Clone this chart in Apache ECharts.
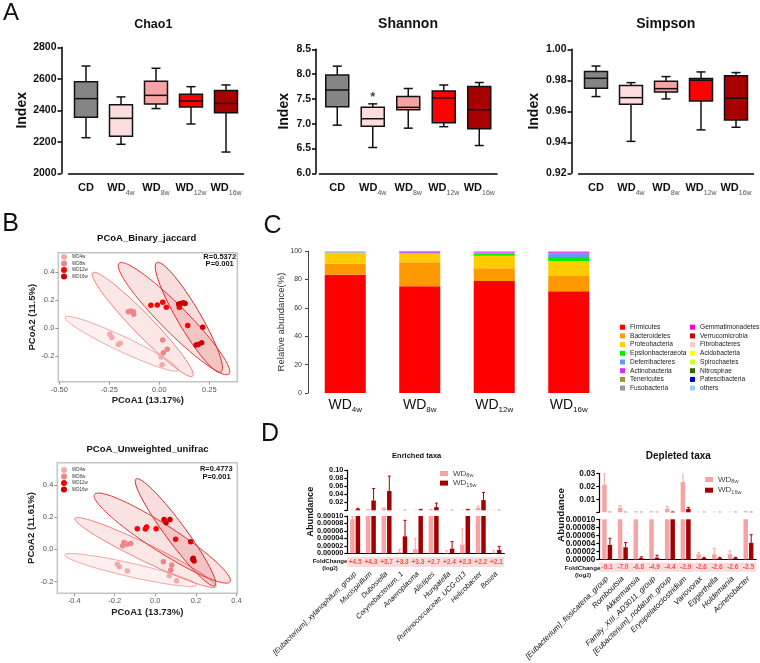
<!DOCTYPE html>
<html>
<head>
<meta charset="utf-8">
<script src="https://cdn.jsdelivr.net/npm/echarts@6/dist/echarts.min.js"></script>
<style>
html, body, #main { width: 760px; height: 663px; margin: 0; background: #fff; }
</style>
</head>
<body>
<div id="main"></div>
<script>
// ---------- A: alpha diversity (min, Q1, median, Q3, max) ----------
var groups = ['CD', 'WD4w', 'WD8w', 'WD12w', 'WD16w'];
var chao1 = [[2226, 2356, 2474, 2582, 2681], [2184, 2235, 2349, 2436, 2485], [2411, 2440, 2495, 2584, 2667], [2313, 2421, 2459, 2502, 2550], [2135, 2385, 2444, 2525, 2561]];
var shannon = [[6.97, 7.34, 7.68, 7.98, 8.16], [6.52, 6.95, 7.10, 7.33, 7.40], [6.91, 7.28, 7.33, 7.55, 7.71], [6.94, 7.02, 7.52, 7.66, 7.78], [6.56, 6.90, 7.28, 7.75, 7.83]];
var simpson = [[0.9695, 0.9748, 0.9813, 0.9856, 0.9892], [0.9406, 0.9645, 0.9688, 0.9766, 0.9785], [0.968, 0.9725, 0.9746, 0.9794, 0.9824], [0.948, 0.9667, 0.980, 0.9811, 0.9854], [0.9497, 0.9544, 0.9684, 0.983, 0.985]];
var shannonStar = [[1, 7.53]];
var boxColors = ['#858585', '#fcdcdc', '#f5a3a3', '#ff0000', '#a80000'];

// ---------- B: PCoA ----------
var pcoaGroups = ['WD4w', 'WD8w', 'WD12w', 'WD16w'];
var pcoaColors = ['#f7a8a8', '#f08585', '#ff0000', '#cc0000'];
var jac4w = [[-0.247, -0.043], [-0.237, -0.065], [-0.205, -0.115], [-0.195, -0.107], [0.009, -0.205], [0.014, -0.26]];
var jac8w = [[-0.155, 0.119], [-0.143, 0.124], [-0.130, 0.119], [-0.128, 0.100], [0.017, -0.084], [0.040, -0.150], [0.020, -0.174]];
var jac12w = [[-0.042, 0.164], [-0.010, 0.166], [0.017, 0.186], [0.035, 0.150], [0.100, 0.150], [0.142, 0.021]];
var jac16w = [[0.097, 0.174], [0.107, 0.178], [0.120, 0.183], [0.129, 0.178], [0.217, 0.007], [0.184, -0.119], [0.195, -0.115], [0.212, -0.103]];
// ellipse: tip1 x, tip1 y, tip2 x, tip2 y, minor/major ratio
var jacEllipses = [[-0.4715, 0.08, 0.095, -0.30, 0.12], [-0.333, 0.397, 0.167, -0.341, 0.14], [-0.2015, 0.464, 0.3485, -0.326, 0.17], [-0.013, 0.469, 0.3085, -0.312, 0.18]];
var uni4w = [[-0.187, -0.093], [-0.177, -0.108], [-0.138, -0.135], [0.069, -0.164], [0.105, -0.195]];
var uni8w = [[-0.161, 0.023], [-0.154, 0.043], [-0.138, 0.031], [-0.121, 0.037], [0.040, -0.077], [0.081, -0.098], [0.076, -0.129]];
var uni12w = [[-0.089, 0.128], [-0.049, 0.126], [-0.043, 0.139], [0.004, 0.128], [0.100, 0.062]];
var uni16w = [[0.043, 0.186], [0.053, 0.165], [0.072, 0.186], [0.174, 0.047], [0.184, -0.062], [0.191, -0.073], [0.187, -0.056]];
var uniEllipses = [[-0.445, -0.035, 0.204, -0.222, 0.10], [-0.396, 0.192, 0.299, -0.232, 0.11], [-0.300, 0.341, 0.368, -0.201, 0.165], [-0.095, 0.437, 0.294, -0.226, 0.15]];
var ellFill = ['rgba(250,170,170,0.18)', 'rgba(240,120,120,0.18)', 'rgba(225,60,60,0.15)', 'rgba(200,30,30,0.15)'];
var ellLine = ['#f6a5a5', '#f08080', '#e53935', '#d32f2f'];

// ---------- C: phylum composition (%) ----------
var compGroups = ['WD4w', 'WD8w', 'WD12w', 'WD16w'];
var phyla = ['Firmicutes', 'Bacteroidetes', 'Proteobacteria', 'Epsilonbacteraeota', 'Deferribacteres', 'Actinobacteria', 'Tenericutes', 'Fusobacteria',
             'Gemmatimonadetes', 'Verrucomicrobia', 'Fibrobacteres', 'Acidobacteria', 'Spirochaetes', 'Nitrospirae', 'Patescibacteria', 'others'];
var phylaColors = ['#ff0000', '#ff9900', '#ffcc00', '#00ee00', '#6699ff', '#cc33ff', '#999933', '#999999',
                   '#ff00cc', '#cc0000', '#ffcccc', '#ffff00', '#ccff33', '#336600', '#0000cc', '#99ccff'];
var comp4w = [83.2, 7.9, 7.8, 0.1, 0.3, 0.1, 0.05, 0, 0, 0, 0, 0, 0, 0, 0, 0.55];
var comp8w = [75.1, 16.9, 6.1, 0.4, 0.3, 0.6, 0.1, 0, 0.2, 0.1, 0, 0, 0, 0, 0, 0.2];
var comp12w = [78.9, 8.9, 8.9, 1.3, 0.8, 0.3, 0.1, 0, 0.1, 0, 0, 0, 0, 0, 0, 0.7];
var comp16w = [71.6, 10.8, 10.6, 2.8, 2.4, 0.9, 0.1, 0, 0.2, 0, 0, 0, 0, 0, 0, 0.6];

// ---------- D: differential taxa ----------
var enrTaxa = ['[Eubacterium]_xylanophilum_group', 'Mucispirillum', 'Dubosiella', 'Corynebacterium_1', 'Anaeroplasma', 'Alistipes', 'Hungatella', 'Ruminococcaceae_UCG-013', 'Helicobacter', 'Bosea'];
var enrMean8 = [0.0000911, 0.0015, 0.005, 0.0000036, 0.0000116, 0.0017, 0.0000009, 0.0000232, 0.006, 0.0000018];
var enrSd8 = [0.000007, 0.0007, 0.001, 0.000007, 0.0000277, 0.0005, 0.000006, 0.000042, 0.0043, 0.0000052];
var enrMean16 = [0.003, 0.0243, 0.0478, 0.0000455, 0.002, 0.0078, 0.0000125, 0.002, 0.0253, 0.0000089];
var enrSd16 = [0.002, 0.0297, 0.037, 0.0000429, 0.0005, 0.01, 0.0000188, 0.0005, 0.019, 0.0000099];
var enrFold = [4.5, 4.3, 3.7, 3.3, 3.3, 2.7, 2.4, 2.3, 2.2, 2.1];
var depTaxa = ['[Eubacterium]_fissicatena_group', 'Romboutsia', 'Akkermansia', 'Family_XIII_AD3011_group', '[Eubacterium]_nodatum_group', 'Erysipelatoclostridium', 'Variovorax', 'Eggerthella', 'Holdemania', 'Acinetobacter'];
var depMean8 = [0.0213, 0.0036, 0.0004, 0.0004, 0.0028, 0.0233, 0.0000125, 0.0000125, 0.000013, 0.0005];
var depSd8 = [0.0082, 0.0015, 0, 0, 0.0018, 0.0075, 0.000005, 0.000015, 0.000008, 0];
var depMean16 = [0.0000358, 0.00003, 0.0000033, 0.0000042, 0.0003, 0.0026, 0.0000033, 0.000003, 0.000003, 0.000041];
var depSd16 = [0.0000167, 0.0000117, 0.000003, 0.0000058, 0, 0.0012, 0.0000017, 0.000002, 0.000002, 0.0000205];
var depFold = [-9.1, -7.0, -6.8, -4.9, -4.4, -2.9, -2.6, -2.6, -2.6, -2.5];
var pinkBar = '#f7a3a3', darkBar = '#a30000';

var FONT = '"Liberation Sans", Arial, sans-serif';
var chart = echarts.init(document.getElementById('main'));

function subLabel(v) {
    return v === 'CD' ? '{m|CD}' : '{m|WD}{s|' + v.slice(2) + '}';
}

// box plot drawn with short whisker caps
function boxItem(params, api) {
    var i = api.value(0);
    var lo = api.coord([i, api.value(1)]), q1 = api.coord([i, api.value(2)]), md = api.coord([i, api.value(3)]);
    var q3 = api.coord([i, api.value(4)]), hi = api.coord([i, api.value(5)]);
    var x = lo[0], half = 11.5, cap = 4.5;
    function ln(x1, y1, x2, y2) {
        return { type: 'line', shape: { x1: x1, y1: y1, x2: x2, y2: y2 }, style: { stroke: '#111', lineWidth: 1.5 } };
    }
    return { type: 'group', children: [
        ln(x, hi[1], x, q3[1]), ln(x - cap, hi[1], x + cap, hi[1]),
        ln(x, q1[1], x, lo[1]), ln(x - cap, lo[1], x + cap, lo[1]),
        { type: 'rect', shape: { x: x - half, y: q3[1], width: half * 2, height: q1[1] - q3[1] },
          style: { fill: boxColors[params.dataIndex], stroke: '#111', lineWidth: 1.5 } },
        ln(x - half, md[1], x + half, md[1])
    ] };
}

function ellipseItem(params, api) {
    var a = api.coord([api.value(0), api.value(1)]), b = api.coord([api.value(2), api.value(3)]);
    var r = api.value(4);
    var cx = (a[0] + b[0]) / 2, cy = (a[1] + b[1]) / 2, ux = (b[0] - a[0]) / 2, uy = (b[1] - a[1]) / 2;
    var vx = -uy * r, vy = ux * r, pts = [];
    for (var k = 0; k < 90; k++) {
        var t = k / 90 * Math.PI * 2;
        pts.push([cx + Math.cos(t) * ux + Math.sin(t) * vx, cy + Math.cos(t) * uy + Math.sin(t) * vy]);
    }
    return { type: 'polygon', shape: { points: pts },
             style: { fill: ellFill[params.dataIndex], stroke: ellLine[params.dataIndex], lineWidth: 1 } };
}

function errItem(off, color) {
    return function (params, api) {
        var c = api.value(0), m = api.value(1), sd = api.value(2);
        var p0 = api.coord([c, m]), p1 = api.coord([c, m + sd]);
        var x = p0[0] + off;
        return { type: 'group', children: [
            { type: 'line', shape: { x1: x, y1: p0[1], x2: x, y2: p1[1] }, style: { stroke: color, lineWidth: 1 } },
            { type: 'line', shape: { x1: x - 1.5, y1: p1[1], x2: x + 1.5, y2: p1[1] }, style: { stroke: color, lineWidth: 1 } }
        ] };
    };
}

var grids = [
    { left: 68.5, top: 47.3, width: 175, height: 126 },
    { left: 319.5, top: 49.3, width: 177.5, height: 124 },
    { left: 578.5, top: 49.3, width: 175, height: 124 },
    { left: 58.3, top: 252.7, width: 179, height: 129, show: true, borderColor: '#c4c4c4', borderWidth: 1.5 },
    { left: 57.3, top: 462.7, width: 180, height: 130.6, show: true, borderColor: '#c4c4c4', borderWidth: 1.5 },
    { left: 308, top: 251, width: 298, height: 142 },
    { left: 347.3, top: 470, width: 157, height: 40.3 },
    { left: 347.3, top: 516, width: 157, height: 37.3 },
    { left: 347.3, top: 557, width: 157, height: 10, show: true, backgroundColor: '#fbdcdc', borderWidth: 0 },
    { left: 599.3, top: 473.3, width: 157, height: 39 },
    { left: 599.3, top: 519.3, width: 157, height: 40 },
    { left: 599.3, top: 562.5, width: 157, height: 11.5, show: true, backgroundColor: '#fbdcdc', borderWidth: 0 }
];

var blackLine = { color: '#000', width: 1.5 };

function boxX(i) {
    return { gridIndex: i, type: 'category', data: groups,
        axisLine: { lineStyle: blackLine },
        axisTick: { alignWithLabel: true, length: 4, lineStyle: blackLine },
        axisLabel: { margin: 7, interval: 0, formatter: subLabel, rich: {
            m: { fontSize: 11, fontWeight: 'bold', color: '#111', lineHeight: 16 },
            s: { fontSize: 7, color: '#555', verticalAlign: 'bottom', lineHeight: 8 } } } };
}
function boxY(i, min, max, step, dec, off, gap) {
    return { gridIndex: i, type: 'value', min: min, max: max, interval: step, offset: off,
        name: 'Index', nameLocation: 'middle', nameGap: gap,
        nameTextStyle: { fontSize: 14, fontWeight: 'bold', color: '#111' },
        axisLine: { show: true, lineStyle: blackLine },
        axisTick: { show: true, length: 4, lineStyle: blackLine },
        axisLabel: { fontSize: 10.5, fontWeight: 'bold', color: '#111', margin: 5,
            formatter: function (v) { return v.toFixed(dec); } },
        splitLine: { show: false } };
}
function pcoaAxis(i, min, max, ticks, dec, name, gap) {
    return { gridIndex: i, type: 'value', min: min, max: max, name: name, nameLocation: 'middle', nameGap: gap,
        nameTextStyle: { fontSize: 9.5, fontWeight: 'bold', color: '#222' },
        axisLine: { show: false, onZero: false },
        axisTick: { show: true, length: 3, customValues: ticks, lineStyle: { color: '#999' } },
        axisLabel: { customValues: ticks, fontSize: 7.5, color: '#555', margin: 4,
            formatter: function (v) { return v.toFixed(dec); } },
        splitLine: { show: false } };
}
function dXAxis(i, names, kind, fs) {
    var ax = { gridIndex: i, type: 'category', data: names };
    if (kind === 'upper') { ax.show = false; }
    if (kind === 'lower') {
        ax.axisLine = { lineStyle: { color: '#000', width: 1.2 } };
        ax.axisTick = { show: false };
        ax.axisLabel = { show: false };
    }
    if (kind === 'band') {
        ax.axisLine = { show: false };
        ax.axisTick = { show: false };
        ax.axisLabel = { rotate: 45, margin: 6, interval: 0, fontSize: fs, fontStyle: 'italic', color: '#111' };
    }
    return ax;
}
function dYAxis(i, max, step, dec, fs) {
    return { gridIndex: i, type: 'value', min: 0, max: max, interval: step,
        axisLine: { show: true, lineStyle: { color: '#000', width: 1.2 } },
        axisTick: { show: true, length: 3, lineStyle: { color: '#000', width: 1.2 } },
        axisLabel: { fontSize: fs, fontWeight: 'bold', color: '#111', margin: 4, hideOverlap: false,
            showMinLabel: true, showMaxLabel: true,
            formatter: function (v) { return (dec < 5 && v === 0) ? '' : v.toFixed(dec); } },
        splitLine: { show: false } };
}

var xAxes = [
    boxX(0), boxX(1), boxX(2),
    pcoaAxis(3, -0.505, 0.39, [-0.5, -0.25, 0, 0.25], 2, 'PCoA1 (13.17%)', 14),
    pcoaAxis(4, -0.483, 0.404, [-0.4, -0.2, 0, 0.2, 0.4], 1, 'PCoA1 (13.73%)', 14),
    { gridIndex: 5, type: 'category', data: compGroups, axisLine: { show: false }, axisTick: { show: false },
      axisLabel: { margin: 3, interval: 0, formatter: subLabel, rich: {
          m: { fontSize: 14, color: '#111', lineHeight: 18 },
          s: { fontSize: 8, color: '#111', verticalAlign: 'bottom', lineHeight: 9 } } } },
    dXAxis(6, enrTaxa, 'upper'), dXAxis(7, enrTaxa, 'lower'), dXAxis(8, enrTaxa, 'band', 7.3),
    dXAxis(9, depTaxa, 'upper'), dXAxis(10, depTaxa, 'lower'), dXAxis(11, depTaxa, 'band', 7.8)
];
var yAxes = [
    boxY(0, 2000, 2800, 200, 0, 7, 32),
    boxY(1, 6, 8.5, 0.5, 1, 3.5, 25),
    boxY(2, 0.92, 1.0, 0.02, 2, 7, 30),
    pcoaAxis(3, -0.381, 0.54, [-0.2, 0, 0.2, 0.4], 1, 'PCoA2 (11.5%)', 19),
    pcoaAxis(4, -0.273, 0.538, [-0.2, 0, 0.2, 0.4], 1, 'PCoA2 (11.61%)', 19),
    { gridIndex: 5, type: 'value', min: 0, max: 100, interval: 20,
      name: 'Relative abundance(%)', nameLocation: 'middle', nameGap: 17,
      nameTextStyle: { fontSize: 9.5, color: '#333' },
      axisLine: { show: true, lineStyle: { color: '#444', width: 1 } },
      axisTick: { show: true, length: 3, lineStyle: { color: '#444' } },
      axisLabel: { fontSize: 7, color: '#333', margin: 6 }, splitLine: { show: false } },
    dYAxis(6, 0.1, 0.02, 2, 7.3), dYAxis(7, 0.0001, 0.00002, 5, 7.3),
    { gridIndex: 8, type: 'value', min: 0, max: 1, show: false },
    dYAxis(9, 0.03, 0.01, 2, 8.2), dYAxis(10, 0.0001, 0.00002, 5, 8.2),
    { gridIndex: 11, type: 'value', min: 0, max: 1, show: false }
];

var series = [];
[chao1, shannon, simpson].forEach(function (stats, i) {
    series.push({ type: 'custom', xAxisIndex: i, yAxisIndex: i, renderItem: boxItem,
        encode: { x: 0, y: [1, 2, 3, 4, 5] },
        data: stats.map(function (s, k) { return [k].concat(s); }) });
});
series.push({ type: 'scatter', xAxisIndex: 1, yAxisIndex: 1, data: shannonStar, symbolSize: 1, silent: true,
    itemStyle: { color: 'rgba(0,0,0,0)' },
    label: { show: true, position: 'inside', formatter: '*', fontSize: 13, fontWeight: 'bold', color: '#111' } });

[[jacEllipses, [jac4w, jac8w, jac12w, jac16w]], [uniEllipses, [uni4w, uni8w, uni12w, uni16w]]].forEach(function (p, j) {
    var gi = 3 + j;
    series.push({ type: 'custom', xAxisIndex: gi, yAxisIndex: gi, renderItem: ellipseItem, clip: true, z: 1,
        encode: { x: [0, 2], y: [1, 3] }, data: p[0] });
    p[1].forEach(function (pts, k) {
        series.push({ type: 'scatter', name: pcoaGroups[k], xAxisIndex: gi, yAxisIndex: gi, data: pts,
            symbolSize: 5.5, itemStyle: { color: pcoaColors[k], opacity: 1 }, z: 3 });
    });
});

phyla.forEach(function (p, k) {
    series.push({ type: 'bar', name: p, stack: 'phylum', xAxisIndex: 5, yAxisIndex: 5, barWidth: 41,
        itemStyle: { color: phylaColors[k] }, data: [comp4w[k], comp8w[k], comp12w[k], comp16w[k]] });
});

function taxaPanel(gUp, gLow, gBand, m8, s8, m16, s16, fold) {
    [gUp, gLow].forEach(function (gi) {
        series.push({ type: 'bar', name: 'D8', xAxisIndex: gi, yAxisIndex: gi, data: m8, barWidth: 4.5, barGap: '22%',
            clip: true, itemStyle: { color: pinkBar } });
        series.push({ type: 'bar', name: 'D16', xAxisIndex: gi, yAxisIndex: gi, data: m16, barWidth: 4.5, barGap: '22%',
            clip: true, itemStyle: { color: darkBar } });
        series.push({ type: 'custom', xAxisIndex: gi, yAxisIndex: gi, clip: true, z: 3, renderItem: errItem(-2.75, pinkBar),
            encode: { x: 0, y: 1 }, data: m8.map(function (m, k) { return [k, m, s8[k]]; }) });
        series.push({ type: 'custom', xAxisIndex: gi, yAxisIndex: gi, clip: true, z: 3, renderItem: errItem(2.75, darkBar),
            encode: { x: 0, y: 1 }, data: m16.map(function (m, k) { return [k, m, s16[k]]; }) });
    });
    series.push({ type: 'scatter', xAxisIndex: gBand, yAxisIndex: gBand, symbolSize: 1, silent: true,
        itemStyle: { color: 'rgba(0,0,0,0)' },
        data: fold.map(function (v, k) { return [k, 0.5, v]; }),
        label: { show: true, position: 'inside', fontSize: 6.5, fontWeight: 'bold', color: '#ff2b2b',
            formatter: function (p) { return (p.value[2] > 0 ? '+' : '') + p.value[2].toFixed(1); } } });
}
taxaPanel(6, 7, 8, enrMean8, enrSd8, enrMean16, enrSd16, enrFold);
taxaPanel(9, 10, 11, depMean8, depSd8, depMean16, depSd16, depFold);

function txt(x, y, text, size, weight, extra) {
    var el = { type: 'text', x: x, y: y, silent: true,
        style: { text: text, fontSize: size, fontWeight: weight, fontFamily: FONT, fill: '#111',
                 align: 'center', verticalAlign: 'middle', textAlign: 'center', textVerticalAlign: 'middle' } };
    if (extra) {
        if (extra.rotation) el.rotation = extra.rotation;
        if (extra.rich) el.style.rich = extra.rich;
        if (extra.fill) el.style.fill = extra.fill;
    }
    return el;
}
var logRich = { rich: { s: { fontSize: 4.5, fontWeight: 'bold', verticalAlign: 'bottom', lineHeight: 5 } } };

var graphics = [
    txt(11, 13.5, 'A', 24, 'normal'), txt(10.5, 224, 'B', 25, 'normal'),
    txt(272.5, 226, 'C', 25, 'normal'), txt(270, 434, 'D', 25, 'normal'),
    txt(153.3, 24.5, 'Chao1', 12.5, 'bold'), txt(408, 24.5, 'Shannon', 14, 'bold'), txt(665.8, 24.5, 'Simpson', 14, 'bold'),
    txt(146.7, 238.5, 'PCoA_Binary_jaccard', 9.5, 'bold'), txt(147.5, 449.5, 'PCoA_Unweighted_unifrac', 9.5, 'bold'),
    txt(219.7, 256.7, 'R=0.5372', 7.5, 'bold'), txt(219.7, 264.3, 'P=0.001', 7.5, 'bold'),
    txt(216.3, 469, 'R=0.4773', 7.5, 'bold'), txt(216.5, 477.3, 'P=0.001', 7.5, 'bold'),
    txt(416.7, 456, 'Enriched taxa', 7.5, 'bold'), txt(678.3, 456, 'Depleted taxa', 10, 'bold'),
    txt(310, 511.7, 'Abundance', 9.2, 'bold', { rotation: Math.PI / 2 }),
    txt(561.7, 515, 'Abundance', 9.9, 'bold', { rotation: Math.PI / 2 }),
    txt(330, 561.7, 'FoldChange', 6, 'bold'), txt(330, 568.5, '(log{s|2})', 6, 'bold', logRich),
    txt(582.5, 568.3, 'FoldChange', 6.2, 'bold'), txt(583, 575, '(log{s|2})', 6.2, 'bold', logRich)
];

var dNames = { D8: '{m|WD}{s|8w}', D16: '{m|WD}{s|16w}' };
var dLegendText = { rich: { m: { fontSize: 8, color: '#444', lineHeight: 10 },
                            s: { fontSize: 5.5, color: '#444', verticalAlign: 'bottom', lineHeight: 6 } } };
function pcoaLegend(top) {
    return { data: pcoaGroups, left: 61, top: top, orient: 'vertical', icon: 'circle', itemWidth: 6, itemHeight: 6,
        itemGap: 0.5, padding: 0, selectedMode: false, textStyle: { fontSize: 4.5, color: '#333', lineHeight: 6 } };
}
function phylaLegend(names, left) {
    return { data: names, left: left, top: 323.7, orient: 'vertical', icon: 'rect', itemWidth: 5, itemHeight: 5,
        itemGap: 1.7, padding: 0, selectedMode: false, textStyle: { fontSize: 6.6, color: '#222', lineHeight: 6 } };
}
function dLegend(left, top, gap) {
    return { data: ['D8', 'D16'], left: left, top: top, orient: 'vertical', icon: 'rect', itemWidth: 8, itemHeight: 5,
        itemGap: gap, padding: 0, selectedMode: false, formatter: function (n) { return dNames[n]; }, textStyle: dLegendText };
}

var option = {
    animation: false,
    backgroundColor: '#fff',
    textStyle: { fontFamily: FONT },
    grid: grids,
    xAxis: xAxes,
    yAxis: yAxes,
    legend: [pcoaLegend(254), pcoaLegend(467), phylaLegend(phyla.slice(0, 8), 620), phylaLegend(phyla.slice(8), 690),
             dLegend(440, 469.5, 0.6), dLegend(705, 475.5, 1.7)],
    graphic: graphics,
    series: series
};
chart.setOption(option);
</script>
</body>
</html>
